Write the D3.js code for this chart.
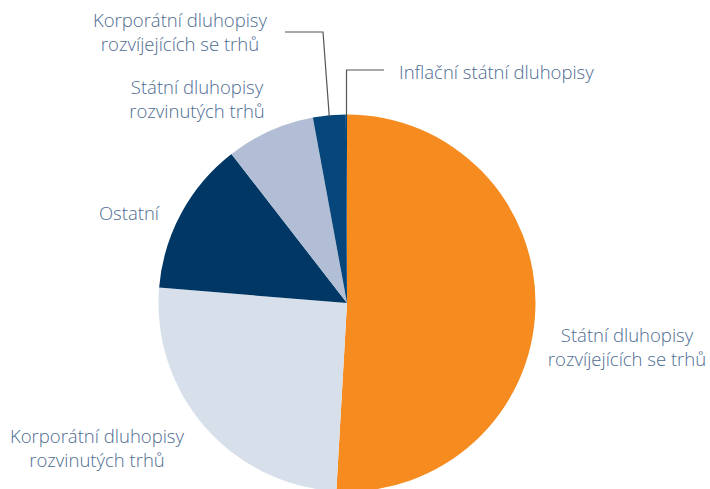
<!DOCTYPE html>
<html>
<head>
<meta charset="utf-8">
<script src="https://cdn.jsdelivr.net/npm/d3@7"></script>
<style>
  body { margin: 0; background: #fff; }
  svg text { font-family: "Open Sans", "Liberation Sans", Arial, sans-serif; font-weight: 300; font-size: 18.5px; fill: #4d6c92; }
</style>
</head>
<body>
<svg id="chart" width="710" height="489"></svg>
<script>
// data, clockwise from 12 o'clock
const categories = [
  "Státní dluhopisy rozvíjejících se trhů",
  "Korporátní dluhopisy rozvinutých trhů",
  "Ostatní",
  "Státní dluhopisy rozvinutých trhů",
  "Korporátní dluhopisy rozvíjejících se trhů",
  "Inflační státní dluhopisy"
];
const shares = [50.9, 25.4, 13.2, 7.6, 2.8, 0.1];
const colors = ["#f68b1f", "#d7dfeb", "#003764", "#b2bed6", "#06467a", "#06467a"];

// label lines and their placement
const labelLines = [
  ["Státní dluhopisy", "rozvíjejících se trhů"],
  ["Korporátní dluhopisy", "rozvinutých trhů"],
  ["Ostatní"],
  ["Státní dluhopisy", "rozvinutých trhů"],
  ["Korporátní dluhopisy", "rozvíjejících se trhů"],
  ["Inflační státní dluhopisy"]
];
const labelPos = [
  { x: 627, y: 342, anchor: "middle" },
  { x: 97, y: 443, anchor: "middle" },
  { x: 129, y: 220, anchor: "middle" },
  { x: 197, y: 94, anchor: "middle" },
  { x: 180, y: 27, anchor: "middle" },
  { x: 399, y: 79, anchor: "start" }
];

const cx = 347, cy = 303, r = 188.5;
const svg = d3.select("#chart");
const g = svg.append("g").attr("transform", `translate(${cx},${cy})`);

const pie = d3.pie().sort(null).value(d => d)(shares);
const arc = d3.arc().innerRadius(0).outerRadius(r);

g.selectAll("path.slice")
  .data(pie)
  .join("path")
  .attr("class", "slice")
  .attr("d", arc)
  .attr("fill", (d, i) => colors[i]);

// leader lines for the two small slices at the top
function edgePoint(a) {
  return [cx + r * Math.sin(a), cy - r * Math.cos(a)];
}
const korpMid = (pie[4].startAngle + pie[4].endAngle) / 2;
const kp = edgePoint(korpMid);
const ip = edgePoint(pie[5].endAngle);

const line = d3.line();
svg.append("path")
  .attr("d", line([[285, 32], [323, 32], [kp[0], kp[1] + 1]]))
  .attr("fill", "none").attr("stroke", "#555").attr("stroke-width", 1.2);
svg.append("path")
  .attr("d", line([[384, 70], [ip[0] - 0.5, 70], [ip[0] - 0.5, ip[1] + 1]]))
  .attr("fill", "none").attr("stroke", "#555").attr("stroke-width", 1.2);

// labels
labelLines.forEach((lines, i) => {
  const p = labelPos[i];
  const t = svg.append("text")
    .attr("x", p.x).attr("y", p.y)
    .attr("text-anchor", p.anchor);
  lines.forEach((s, j) => {
    t.append("tspan").attr("x", p.x).attr("dy", j === 0 ? 0 : 24.4).text(s);
  });
});
</script>
</body>
</html>
